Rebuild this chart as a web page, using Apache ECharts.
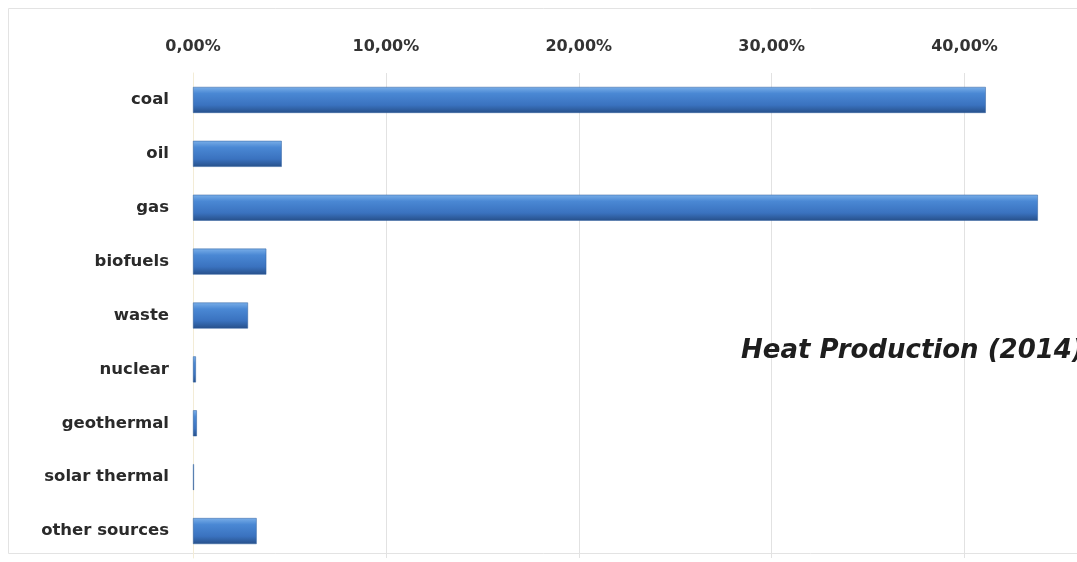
<!DOCTYPE html>
<html>
<head>
<meta charset="utf-8">
<script src="https://cdn.jsdelivr.net/npm/echarts@6/dist/echarts.min.js"></script>
<style>
html,body{margin:0;padding:0;background:#fff;}
#chart{width:1077px;height:562px;}
</style>
</head>
<body>
<div id="chart"></div>
<script>
const categories = ["coal","oil","gas","biofuels","waste","nuclear","geothermal","solar thermal","other sources"];
const shares = [41.1, 4.6, 43.8, 3.8, 2.85, 0.15, 0.2, 0.05, 3.3];
const tickStep = 10;
const axisMax = 45;
const titleText = "Heat Production (2014)";

const chart = echarts.init(document.getElementById('chart'));
chart.setOption({
  backgroundColor: '#ffffff',
  animation: false,
  graphic: [{
    type: 'rect', silent: true, z: -1,
    shape: {x: 8.5, y: 8.5, width: 1100, height: 545},
    style: {fill: 'none', stroke: '#e3e3e3', lineWidth: 1}
  }],
  title: {
    text: titleText, left: 736, top: 333,
    textStyle: {fontFamily: 'DejaVu Sans', fontStyle: 'italic', fontWeight: 'bold', fontSize: 26, color: '#1e1e1e'}
  },
  grid: {left: 193, right: 16, top: 73, bottom: 4, containLabel: false},
  xAxis: {
    type: 'value', position: 'top', min: 0, max: axisMax, interval: tickStep,
    axisLine: {show: false}, axisTick: {show: false},
    splitLine: {show: true, showMinLine: false, showMaxLine: false, lineStyle: {color: '#e2e2e2', width: 1}},
    axisLabel: {
      showMaxLabel: false, margin: 18,
      fontFamily: 'DejaVu Sans', fontWeight: 'bold', fontSize: 16, color: '#333',
      formatter: v => v.toFixed(2).replace('.', ',') + '%'
    }
  },
  yAxis: {
    type: 'category', inverse: true, data: categories,
    axisLine: {show: true, lineStyle: {color: '#f3ecd6', width: 1}},
    axisTick: {show: false},
    axisLabel: {margin: 24, fontFamily: 'DejaVu Sans', fontWeight: 'bold', fontSize: 16.5, color: '#2a2a2a'}
  },
  series: [{
    type: 'bar', data: shares, barWidth: 26,
    itemStyle: {
      color: new echarts.graphic.LinearGradient(0, 0, 0, 1, [
        {offset: 0, color: '#79aee8'},
        {offset: 0.25, color: '#4a88d4'},
        {offset: 0.7, color: '#3a72bf'},
        {offset: 1, color: '#27508a'}
      ]),
      borderColor: '#2f5f9e', borderWidth: 0.5
    }
  }]
});
</script>
</body>
</html>
